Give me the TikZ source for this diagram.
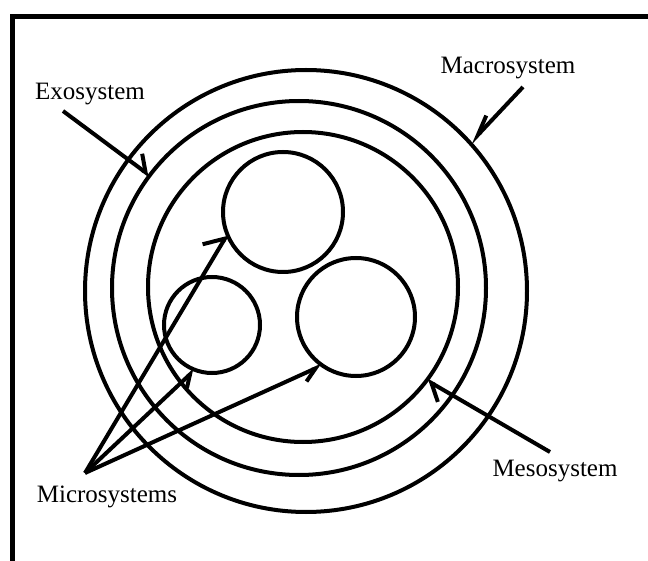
\documentclass[tikz,border=0pt]{standalone}
\usepackage{fontspec}
\setmainfont{Liberation Serif}
\usetikzlibrary{arrows.meta}
\begin{document}
\begin{tikzpicture}[x=1pt,y=-1pt,
  ring/.style={draw, circle, line width=4pt, inner sep=0pt, outer sep=0pt, minimum size=#1},
  lbl/.style={font=\fontsize{25}{30}\selectfont, anchor=base, inner sep=0pt},
  pointer/.style={line width=4pt, line join=miter, -{Straight Barb[#1]}},
  frame/.style={line width=5pt, line join=miter}
]
\useasboundingbox (0,0) rectangle (648,561);
\draw[frame] (12,561) -- (12,17) -- (648,17);

% systems
\node[ring=442pt] (macro) at (306,291) {};
\node[ring=374pt] (exo) at (299,288) {};
\node[ring=310pt] (meso) at (303,287) {};
\node[ring=120pt] (microA) at (283,212) {};
\node[ring=96pt] (microB) at (212,325) {};
\node[ring=118pt] (microC) at (356,317) {};

% labels
\node[lbl] (exoL) at (90,100) {Exosystem};
\node[lbl] (macroL) at (508,74) {Macrosystem};
\node[lbl] (mesoL) at (555,476) {Mesosystem};
\node[lbl] (microL) at (107,502) {Microsystems};

% pointer starts
\coordinate (exoS) at (63,111);
\coordinate (macroS) at (523,87);
\coordinate (mesoS) at (550,452);
\coordinate (microS) at (85,473);

% pointers
\draw[pointer={left, angle=86:19pt}] (exoS) -- (exo.143.3);
\draw[pointer={right, angle=40:21pt}] (macroS) -- (macro.42.6);
\draw[pointer={left, angle=82:20pt}] (mesoS) -- (meso.-37.1);
\draw[pointer={left, angle=90:23pt}] (microS) -- (microA.202.3);
\draw[pointer={right, angle=68:14pt}] (microS) -- (microB.249.3);
\draw[pointer={right, angle=62:16pt}] (microS) -- (microC.235.2);
\end{tikzpicture}
\end{document}
